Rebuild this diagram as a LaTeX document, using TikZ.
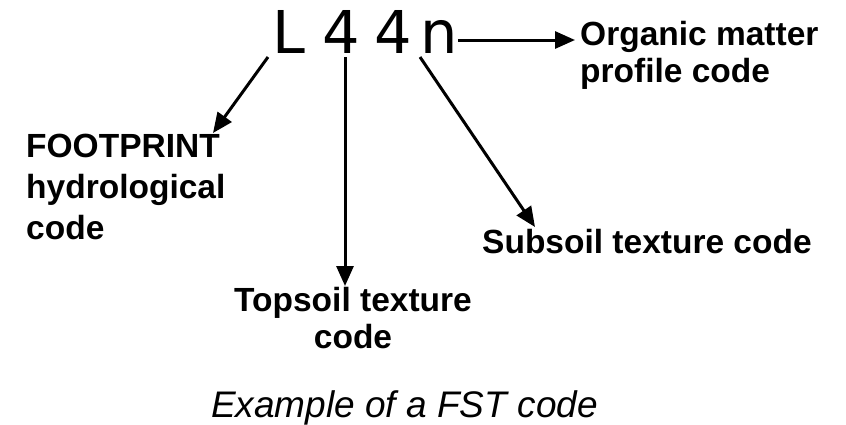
\documentclass[tikz,border=0pt]{standalone}
\usepackage{fontspec}
\setmainfont{Liberation Sans}
\newfontfamily\codefont{DejaVu Sans}
\usetikzlibrary{arrows.meta}
\begin{document}
\begin{tikzpicture}[x=1pt,y=-1pt,
    codechar/.style={inner sep=0pt,anchor=base west,font=\codefont\fontsize{59}{59}\selectfont},
    label/.style={inner sep=0pt,font=\bfseries\fontsize{33.5}{40}\selectfont},
    arr/.style={line width=3pt,-{Triangle[length=20pt,width=17pt]}}]
  \useasboundingbox (0,0) rectangle (846,424);
  % the four characters of the code
  \node[codechar] (L)  at (272,53) {L};
  \node[codechar] (d1) at (322,53) {4};
  \node[codechar] (d2) at (374,53) {4};
  \node[codechar] (n)  at (420,53) {n};
  % descriptions
  \node[label,anchor=north west,align=left,font=\bfseries\fontsize{33.5}{37}\selectfont] (org) at (580,21)
    {Organic matter\\profile code};
  \node[label,anchor=north west,align=left,font=\bfseries\fontsize{33.5}{41}\selectfont] (hyd) at (26,134)
    {FOOTPRINT\\hydrological\\code};
  \node[label,anchor=north,align=center,font=\bfseries\fontsize{33.5}{37}\selectfont] (top) at (353,287)
    {Topsoil texture\\code};
  \node[label,anchor=north west] (sub) at (482,229) {Subsoil texture code};
  % caption
  \node[inner sep=0pt,anchor=base west,font=\itshape\fontsize{37}{37}\selectfont] (cap) at (211,417)
    {Example of a FST code};
  % arrow ends
  \coordinate (orgTip) at (575,40);
  \coordinate (hydTip) at (213,133);
  \coordinate (topTip) at (345,286);
  \coordinate (subTip) at (535,227);
  \coordinate (Lfoot) at (268,57);
  \coordinate (d1foot) at (345,57);
  \coordinate (nfoot) at (420,57);
  \coordinate (nright) at (458,40);
  % connectors
  \draw[arr] (nright) -- (orgTip);
  \draw[arr] (Lfoot) -- (hydTip);
  \draw[arr] (d1foot) -- (topTip);
  \draw[arr] (nfoot) -- (subTip);
\end{tikzpicture}
\end{document}
